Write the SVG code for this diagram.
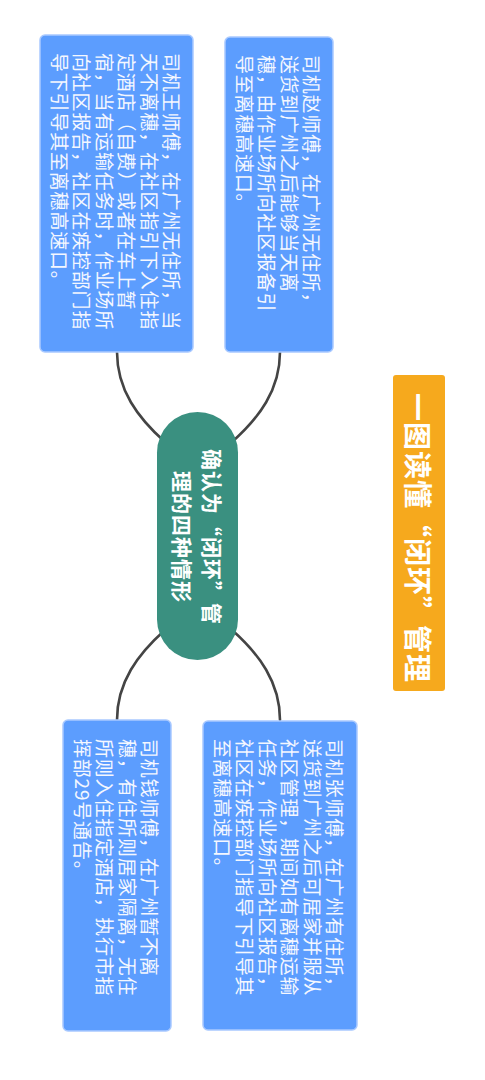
<svg xmlns="http://www.w3.org/2000/svg" width="485" height="1080" viewBox="0 0 485 1080">
<style>
.box{fill:#5C9DFE;stroke:#A9C9FF;stroke-width:1.5}
.bt{font-family:"Noto Sans CJK SC","Noto Sans",sans-serif;font-size:19px;letter-spacing:0.8px;fill:#F4F7FF;dominant-baseline:central}
.ct{font-family:"Noto Sans CJK SC","Noto Sans",sans-serif;font-size:21px;letter-spacing:1px;font-weight:bold;fill:#FFFFFF;dominant-baseline:central;text-anchor:middle}
.tt{font-family:"Noto Sans CJK SC","Noto Sans",sans-serif;font-size:28px;letter-spacing:1px;font-weight:bold;fill:#FFFFFF;dominant-baseline:central;text-anchor:middle}
.ln{fill:none;stroke:#444444;stroke-width:2.6;stroke-linecap:round}
</style>
<rect width="485" height="1080" fill="#FFFFFF"/>
<g id="connectors">
<path class="ln" d="M117,352 C117,390 138,418 165,442"/>
<path class="ln" d="M280,352 C280,390 259,418 232,442"/>
<path class="ln" d="M117,720 C117,682 138,654 165,630"/>
<path class="ln" d="M280,720 C280,682 259,654 232,630"/>
</g>
<g id="title">
<rect x="393" y="375" width="52" height="316" rx="3" fill="#F6A91D"/>
<text class="tt" transform="translate(419,538) rotate(90)" x="0" y="0">一图读懂“闭环”管理</text>
</g>
<g id="center">
<rect x="157" y="412" width="81" height="248" rx="40.5" fill="#3A9080"/>
<text class="ct" transform="translate(198,537) rotate(90)"><tspan x="0" y="-15">确认为“闭环”管</tspan><tspan x="0" y="15">理的四种情形</tspan></text>
</g>
<g id="node-zhao">
<rect class="box" x="225" y="37" width="108" height="315" rx="5"/>
<text class="bt" transform="translate(313,55) rotate(90)"><tspan x="0" y="0">司机赵师傅，在广州无住所，</tspan><tspan x="0" y="22.5">送货到广州之后能够当天离</tspan><tspan x="0" y="45">穗，由作业场所向社区报备引</tspan><tspan x="0" y="67.5">导至离穗高速口。</tspan></text>
</g>
<g id="node-wang">
<rect class="box" x="40" y="35" width="153" height="317" rx="5"/>
<text class="bt" transform="translate(173,53) rotate(90)"><tspan x="0" y="0">司机王师傅，在广州无住所，当</tspan><tspan x="0" y="22.5">天不离穗，在社区指引下入住指</tspan><tspan x="0" y="45">定酒店（自费）或者在车上暂</tspan><tspan x="0" y="67.5">宿，当有运输任务时，作业场所</tspan><tspan x="0" y="90">向社区报告，社区在疾控部门指</tspan><tspan x="0" y="112.5">导下引导其至离穗高速口。</tspan></text>
</g>
<g id="node-zhang">
<rect class="box" x="203" y="721" width="154" height="309" rx="5"/>
<text class="bt" transform="translate(336,739) rotate(90)"><tspan x="0" y="0">司机张师傅，在广州有住所，</tspan><tspan x="0" y="22.5">送货到广州之后可居家并服从</tspan><tspan x="0" y="45">社区管理，期间如有离穗运输</tspan><tspan x="0" y="67.5">任务，作业场所向社区报告，</tspan><tspan x="0" y="90">社区在疾控部门指导下引导其</tspan><tspan x="0" y="112.5">至离穗高速口。</tspan></text>
</g>
<g id="node-qian">
<rect class="box" x="63" y="720" width="108" height="311" rx="5"/>
<text class="bt" transform="translate(151,739) rotate(90)"><tspan x="0" y="0">司机钱师傅，在广州暂不离</tspan><tspan x="0" y="22.5">穗，有住所则居家隔离，无住</tspan><tspan x="0" y="45">所则入住指定酒店，执行市指</tspan><tspan x="0" y="67.5">挥部29号通告。</tspan></text>
</g>
</svg>
